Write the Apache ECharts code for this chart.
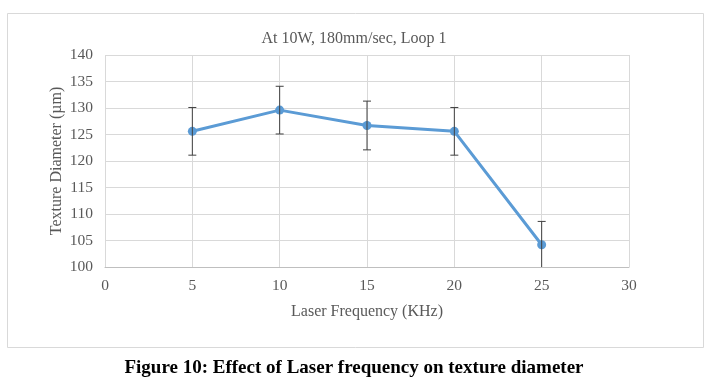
<!DOCTYPE html>
<html>
<head>
<meta charset="utf-8">
<script src="https://cdn.jsdelivr.net/npm/echarts@6/dist/echarts.min.js"></script>
<style>html,body{margin:0;padding:0;background:#fff}#c{width:708px;height:382px}</style>
</head>
<body>
<div id="c"></div>
<script>
const frequency = [5, 10, 15, 20, 25];
const diameter = [125.6, 129.6, 126.7, 125.6, 104.2];
const errorBar = [4.5, 4.5, 4.6, 4.5, 4.4];
const yTicks = {min: 100, max: 140, interval: 5};
const xTicks = {min: 0, max: 30, interval: 5};

const font = '"Liberation Serif", "Times New Roman", serif';
const chart = echarts.init(document.getElementById('c'), null, {renderer: 'canvas'});
const errData = frequency.map((f, i) => [f, diameter[i] - errorBar[i], diameter[i] + errorBar[i]]);

chart.setOption({
  animation: false,
  backgroundColor: '#fff',
  graphic: [{
    type: 'rect', shape: {x: 7.5, y: 13.5, width: 696, height: 334},
    style: {fill: 'none', stroke: '#d9d9d9', lineWidth: 1}, z: -1
  }],
  title: [{
    text: 'At 10W, 180mm/sec, Loop 1', left: 'center', top: 26,
    textStyle: {fontFamily: font, fontSize: 16, fontWeight: 'normal', color: '#595959'}
  }, {
    text: 'Figure 10: Effect of Laser frequency on texture diameter', left: 'center', top: 354,
    textStyle: {fontFamily: font, fontSize: 19, fontWeight: 'bold', color: '#000'}
  }],
  grid: {left: 105, right: 79, top: 55, bottom: 115},
  xAxis: {
    type: 'value', min: xTicks.min, max: xTicks.max, interval: xTicks.interval,
    name: 'Laser Frequency (KHz)', nameLocation: 'middle', nameGap: 37, nameMoveOverlap: false,
    nameTextStyle: {fontFamily: font, fontSize: 16, color: '#595959'},
    axisLine: {show: true, lineStyle: {color: '#bfbfbf'}},
    axisTick: {show: false},
    axisLabel: {fontFamily: font, fontSize: 15.5, color: '#595959', margin: 11},
    splitLine: {show: true, lineStyle: {color: '#d9d9d9'}}
  },
  yAxis: {
    type: 'value', min: yTicks.min, max: yTicks.max, interval: yTicks.interval,
    name: 'Texture Diameter (µm)', nameLocation: 'middle', nameGap: 40, nameMoveOverlap: false,
    nameTextStyle: {fontFamily: font, fontSize: 16, color: '#595959'},
    axisLine: {show: false}, axisTick: {show: false},
    axisLabel: {fontFamily: font, fontSize: 15.5, color: '#595959', margin: 12},
    splitLine: {show: true, lineStyle: {color: '#d9d9d9'}}
  },
  series: [{
    type: 'line', data: frequency.map((f, i) => [f, diameter[i]]),
    lineStyle: {color: '#5b9bd5', width: 3},
    itemStyle: {color: '#5b9bd5'},
    symbol: 'circle', symbolSize: 9, z: 3
  }, {
    type: 'custom', data: errData, clip: true, z: 4,
    renderItem: function (params, api) {
      const x = api.value(0);
      const lo = api.coord([x, api.value(1)]);
      const hi = api.coord([x, api.value(2)]);
      const cap = 4;
      const st = {stroke: '#404040', lineWidth: 1};
      return {
        type: 'group', children: [
          {type: 'line', shape: {x1: lo[0], y1: lo[1], x2: hi[0], y2: hi[1]}, style: st},
          {type: 'line', shape: {x1: lo[0] - cap, y1: lo[1], x2: lo[0] + cap, y2: lo[1]}, style: st},
          {type: 'line', shape: {x1: hi[0] - cap, y1: hi[1], x2: hi[0] + cap, y2: hi[1]}, style: st}
        ]
      };
    }
  }]
});
</script>
</body>
</html>
